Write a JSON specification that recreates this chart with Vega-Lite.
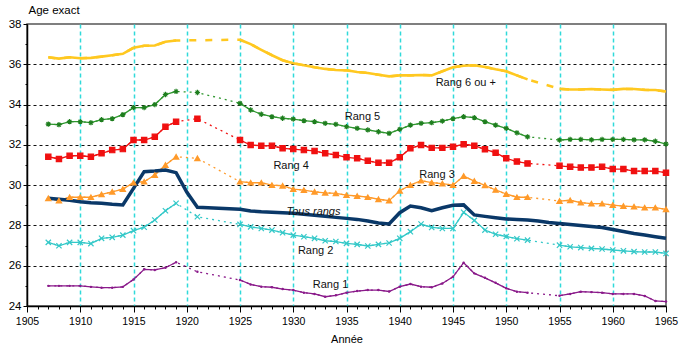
{
  "$schema": "https://vega.github.io/schema/vega-lite/v6.json",
  "width": 639,
  "height": 282,
  "autosize": "none",
  "padding": {"left": 27, "top": 24, "right": 20, "bottom": 46},
  "background": "white",
  "config": {"view": {"stroke": "#555", "strokeWidth": 1.5}, "font": "Liberation Sans"},
  "datasets": {
    "pts": [
      {"s":"Rang 6 ou +","y":1907,"v":36.35,"g":"a"},{"s":"Rang 6 ou +","y":1908,"v":36.28,"g":"a"},{"s":"Rang 6 ou +","y":1909,"v":36.35,"g":"a"},{"s":"Rang 6 ou +","y":1910,"v":36.3,"g":"a"},{"s":"Rang 6 ou +","y":1911,"v":36.32,"g":"a"},{"s":"Rang 6 ou +","y":1912,"v":36.38,"g":"a"},{"s":"Rang 6 ou +","y":1913,"v":36.45,"g":"a"},{"s":"Rang 6 ou +","y":1914,"v":36.52,"g":"a"},{"s":"Rang 6 ou +","y":1915,"v":36.82,"g":"a"},{"s":"Rang 6 ou +","y":1916,"v":36.92,"g":"a"},{"s":"Rang 6 ou +","y":1917,"v":36.93,"g":"a"},{"s":"Rang 6 ou +","y":1918,"v":37.12,"g":"a"},{"s":"Rang 6 ou +","y":1919,"v":37.18,"g":"a"},
      {"s":"Rang 6 ou +","y":1925,"v":37.22,"g":"b"},{"s":"Rang 6 ou +","y":1926,"v":37.0,"g":"b"},{"s":"Rang 6 ou +","y":1927,"v":36.72,"g":"b"},{"s":"Rang 6 ou +","y":1928,"v":36.45,"g":"b"},{"s":"Rang 6 ou +","y":1929,"v":36.2,"g":"b"},{"s":"Rang 6 ou +","y":1930,"v":36.05,"g":"b"},{"s":"Rang 6 ou +","y":1931,"v":35.95,"g":"b"},{"s":"Rang 6 ou +","y":1932,"v":35.85,"g":"b"},{"s":"Rang 6 ou +","y":1933,"v":35.77,"g":"b"},{"s":"Rang 6 ou +","y":1934,"v":35.72,"g":"b"},{"s":"Rang 6 ou +","y":1935,"v":35.7,"g":"b"},{"s":"Rang 6 ou +","y":1936,"v":35.62,"g":"b"},{"s":"Rang 6 ou +","y":1937,"v":35.57,"g":"b"},{"s":"Rang 6 ou +","y":1938,"v":35.48,"g":"b"},{"s":"Rang 6 ou +","y":1939,"v":35.4,"g":"b"},{"s":"Rang 6 ou +","y":1940,"v":35.45,"g":"b"},{"s":"Rang 6 ou +","y":1941,"v":35.45,"g":"b"},{"s":"Rang 6 ou +","y":1942,"v":35.47,"g":"b"},{"s":"Rang 6 ou +","y":1943,"v":35.45,"g":"b"},{"s":"Rang 6 ou +","y":1944,"v":35.65,"g":"b"},{"s":"Rang 6 ou +","y":1945,"v":35.85,"g":"b"},{"s":"Rang 6 ou +","y":1946,"v":35.93,"g":"b"},{"s":"Rang 6 ou +","y":1947,"v":35.95,"g":"b"},{"s":"Rang 6 ou +","y":1948,"v":35.87,"g":"b"},{"s":"Rang 6 ou +","y":1949,"v":35.75,"g":"b"},{"s":"Rang 6 ou +","y":1950,"v":35.65,"g":"b"},{"s":"Rang 6 ou +","y":1951,"v":35.45,"g":"b"},{"s":"Rang 6 ou +","y":1952,"v":35.25,"g":"b"},
      {"s":"Rang 6 ou +","y":1955,"v":34.78,"g":"c"},{"s":"Rang 6 ou +","y":1956,"v":34.75,"g":"c"},{"s":"Rang 6 ou +","y":1957,"v":34.75,"g":"c"},{"s":"Rang 6 ou +","y":1958,"v":34.77,"g":"c"},{"s":"Rang 6 ou +","y":1959,"v":34.75,"g":"c"},{"s":"Rang 6 ou +","y":1960,"v":34.73,"g":"c"},{"s":"Rang 6 ou +","y":1961,"v":34.78,"g":"c"},{"s":"Rang 6 ou +","y":1962,"v":34.77,"g":"c"},{"s":"Rang 6 ou +","y":1963,"v":34.73,"g":"c"},{"s":"Rang 6 ou +","y":1964,"v":34.72,"g":"c"},{"s":"Rang 6 ou +","y":1965,"v":34.65,"g":"c"},

      {"s":"Rang 5","y":1907,"v":33.03,"g":"a"},{"s":"Rang 5","y":1908,"v":33.0,"g":"a"},{"s":"Rang 5","y":1909,"v":33.15,"g":"a"},{"s":"Rang 5","y":1910,"v":33.15,"g":"a"},{"s":"Rang 5","y":1911,"v":33.1,"g":"a"},{"s":"Rang 5","y":1912,"v":33.25,"g":"a"},{"s":"Rang 5","y":1913,"v":33.3,"g":"a"},{"s":"Rang 5","y":1914,"v":33.5,"g":"a"},{"s":"Rang 5","y":1915,"v":33.85,"g":"a"},{"s":"Rang 5","y":1916,"v":33.85,"g":"a"},{"s":"Rang 5","y":1917,"v":34.0,"g":"a"},{"s":"Rang 5","y":1918,"v":34.5,"g":"a"},{"s":"Rang 5","y":1919,"v":34.65,"g":"a"},
      {"s":"Rang 5","y":1921,"v":34.6,"g":"gap"},
      {"s":"Rang 5","y":1925,"v":34.06,"g":"b"},{"s":"Rang 5","y":1926,"v":33.73,"g":"b"},{"s":"Rang 5","y":1927,"v":33.52,"g":"b"},{"s":"Rang 5","y":1928,"v":33.4,"g":"b"},{"s":"Rang 5","y":1929,"v":33.32,"g":"b"},{"s":"Rang 5","y":1930,"v":33.28,"g":"b"},{"s":"Rang 5","y":1931,"v":33.2,"g":"b"},{"s":"Rang 5","y":1932,"v":33.15,"g":"b"},{"s":"Rang 5","y":1933,"v":33.07,"g":"b"},{"s":"Rang 5","y":1934,"v":33.02,"g":"b"},{"s":"Rang 5","y":1935,"v":32.9,"g":"b"},{"s":"Rang 5","y":1936,"v":32.82,"g":"b"},{"s":"Rang 5","y":1937,"v":32.74,"g":"b"},{"s":"Rang 5","y":1938,"v":32.65,"g":"b"},{"s":"Rang 5","y":1939,"v":32.57,"g":"b"},{"s":"Rang 5","y":1940,"v":32.77,"g":"b"},{"s":"Rang 5","y":1941,"v":32.98,"g":"b"},{"s":"Rang 5","y":1942,"v":33.07,"g":"b"},{"s":"Rang 5","y":1943,"v":33.1,"g":"b"},{"s":"Rang 5","y":1944,"v":33.18,"g":"b"},{"s":"Rang 5","y":1945,"v":33.3,"g":"b"},{"s":"Rang 5","y":1946,"v":33.4,"g":"b"},{"s":"Rang 5","y":1947,"v":33.35,"g":"b"},{"s":"Rang 5","y":1948,"v":33.15,"g":"b"},{"s":"Rang 5","y":1949,"v":32.98,"g":"b"},{"s":"Rang 5","y":1950,"v":32.82,"g":"b"},{"s":"Rang 5","y":1951,"v":32.6,"g":"b"},{"s":"Rang 5","y":1952,"v":32.4,"g":"b"},
      {"s":"Rang 5","y":1955,"v":32.24,"g":"c"},{"s":"Rang 5","y":1956,"v":32.27,"g":"c"},{"s":"Rang 5","y":1957,"v":32.27,"g":"c"},{"s":"Rang 5","y":1958,"v":32.25,"g":"c"},{"s":"Rang 5","y":1959,"v":32.27,"g":"c"},{"s":"Rang 5","y":1960,"v":32.27,"g":"c"},{"s":"Rang 5","y":1961,"v":32.27,"g":"c"},{"s":"Rang 5","y":1962,"v":32.25,"g":"c"},{"s":"Rang 5","y":1963,"v":32.25,"g":"c"},{"s":"Rang 5","y":1964,"v":32.18,"g":"c"},{"s":"Rang 5","y":1965,"v":32.04,"g":"c"},

      {"s":"Rang 4","y":1907,"v":31.41,"g":"a"},{"s":"Rang 4","y":1908,"v":31.3,"g":"a"},{"s":"Rang 4","y":1909,"v":31.46,"g":"a"},{"s":"Rang 4","y":1910,"v":31.46,"g":"a"},{"s":"Rang 4","y":1911,"v":31.41,"g":"a"},{"s":"Rang 4","y":1912,"v":31.58,"g":"a"},{"s":"Rang 4","y":1913,"v":31.74,"g":"a"},{"s":"Rang 4","y":1914,"v":31.79,"g":"a"},{"s":"Rang 4","y":1915,"v":32.24,"g":"a"},{"s":"Rang 4","y":1916,"v":32.24,"g":"a"},{"s":"Rang 4","y":1917,"v":32.4,"g":"a"},{"s":"Rang 4","y":1918,"v":32.9,"g":"a"},{"s":"Rang 4","y":1919,"v":33.15,"g":"a"},
      {"s":"Rang 4","y":1921,"v":33.3,"g":"gap"},
      {"s":"Rang 4","y":1925,"v":32.24,"g":"b"},{"s":"Rang 4","y":1926,"v":31.99,"g":"b"},{"s":"Rang 4","y":1927,"v":31.96,"g":"b"},{"s":"Rang 4","y":1928,"v":31.95,"g":"b"},{"s":"Rang 4","y":1929,"v":31.83,"g":"b"},{"s":"Rang 4","y":1930,"v":31.79,"g":"b"},{"s":"Rang 4","y":1931,"v":31.74,"g":"b"},{"s":"Rang 4","y":1932,"v":31.7,"g":"b"},{"s":"Rang 4","y":1933,"v":31.58,"g":"b"},{"s":"Rang 4","y":1934,"v":31.5,"g":"b"},{"s":"Rang 4","y":1935,"v":31.38,"g":"b"},{"s":"Rang 4","y":1936,"v":31.33,"g":"b"},{"s":"Rang 4","y":1937,"v":31.21,"g":"b"},{"s":"Rang 4","y":1938,"v":31.11,"g":"b"},{"s":"Rang 4","y":1939,"v":31.11,"g":"b"},{"s":"Rang 4","y":1940,"v":31.38,"g":"b"},{"s":"Rang 4","y":1941,"v":31.83,"g":"b"},{"s":"Rang 4","y":1942,"v":31.99,"g":"b"},{"s":"Rang 4","y":1943,"v":31.85,"g":"b"},{"s":"Rang 4","y":1944,"v":31.85,"g":"b"},{"s":"Rang 4","y":1945,"v":31.91,"g":"b"},{"s":"Rang 4","y":1946,"v":32.03,"g":"b"},{"s":"Rang 4","y":1947,"v":31.96,"g":"b"},{"s":"Rang 4","y":1948,"v":31.78,"g":"b"},{"s":"Rang 4","y":1949,"v":31.61,"g":"b"},{"s":"Rang 4","y":1950,"v":31.33,"g":"b"},{"s":"Rang 4","y":1951,"v":31.17,"g":"b"},{"s":"Rang 4","y":1952,"v":31.08,"g":"b"},
      {"s":"Rang 4","y":1955,"v":30.96,"g":"c"},{"s":"Rang 4","y":1956,"v":30.91,"g":"c"},{"s":"Rang 4","y":1957,"v":30.87,"g":"c"},{"s":"Rang 4","y":1958,"v":30.87,"g":"c"},{"s":"Rang 4","y":1959,"v":30.91,"g":"c"},{"s":"Rang 4","y":1960,"v":30.8,"g":"c"},{"s":"Rang 4","y":1961,"v":30.8,"g":"c"},{"s":"Rang 4","y":1962,"v":30.7,"g":"c"},{"s":"Rang 4","y":1963,"v":30.7,"g":"c"},{"s":"Rang 4","y":1964,"v":30.7,"g":"c"},{"s":"Rang 4","y":1965,"v":30.62,"g":"c"},

      {"s":"Rang 3","y":1907,"v":29.35,"g":"a"},{"s":"Rang 3","y":1908,"v":29.23,"g":"a"},{"s":"Rang 3","y":1909,"v":29.4,"g":"a"},{"s":"Rang 3","y":1910,"v":29.4,"g":"a"},{"s":"Rang 3","y":1911,"v":29.4,"g":"a"},{"s":"Rang 3","y":1912,"v":29.54,"g":"a"},{"s":"Rang 3","y":1913,"v":29.67,"g":"a"},{"s":"Rang 3","y":1914,"v":29.8,"g":"a"},{"s":"Rang 3","y":1915,"v":30.12,"g":"a"},{"s":"Rang 3","y":1916,"v":30.17,"g":"a"},{"s":"Rang 3","y":1917,"v":30.5,"g":"a"},{"s":"Rang 3","y":1918,"v":31.0,"g":"a"},{"s":"Rang 3","y":1919,"v":31.41,"g":"a"},
      {"s":"Rang 3","y":1921,"v":31.33,"g":"gap"},
      {"s":"Rang 3","y":1925,"v":30.17,"g":"b"},{"s":"Rang 3","y":1926,"v":30.12,"g":"b"},{"s":"Rang 3","y":1927,"v":30.12,"g":"b"},{"s":"Rang 3","y":1928,"v":30.0,"g":"b"},{"s":"Rang 3","y":1929,"v":29.97,"g":"b"},{"s":"Rang 3","y":1930,"v":29.8,"g":"b"},{"s":"Rang 3","y":1931,"v":29.75,"g":"b"},{"s":"Rang 3","y":1932,"v":29.67,"g":"b"},{"s":"Rang 3","y":1933,"v":29.62,"g":"b"},{"s":"Rang 3","y":1934,"v":29.59,"g":"b"},{"s":"Rang 3","y":1935,"v":29.5,"g":"b"},{"s":"Rang 3","y":1936,"v":29.46,"g":"b"},{"s":"Rang 3","y":1937,"v":29.4,"g":"b"},{"s":"Rang 3","y":1938,"v":29.3,"g":"b"},{"s":"Rang 3","y":1939,"v":29.23,"g":"b"},{"s":"Rang 3","y":1940,"v":29.72,"g":"b"},{"s":"Rang 3","y":1941,"v":30.0,"g":"b"},{"s":"Rang 3","y":1942,"v":30.22,"g":"b"},{"s":"Rang 3","y":1943,"v":30.13,"g":"b"},{"s":"Rang 3","y":1944,"v":30.08,"g":"b"},{"s":"Rang 3","y":1945,"v":30.0,"g":"b"},{"s":"Rang 3","y":1946,"v":30.45,"g":"b"},{"s":"Rang 3","y":1947,"v":30.2,"g":"b"},{"s":"Rang 3","y":1948,"v":29.99,"g":"b"},{"s":"Rang 3","y":1949,"v":29.76,"g":"b"},{"s":"Rang 3","y":1950,"v":29.56,"g":"b"},{"s":"Rang 3","y":1951,"v":29.4,"g":"b"},{"s":"Rang 3","y":1952,"v":29.4,"g":"b"},
      {"s":"Rang 3","y":1955,"v":29.21,"g":"c"},{"s":"Rang 3","y":1956,"v":29.25,"g":"c"},{"s":"Rang 3","y":1957,"v":29.13,"g":"c"},{"s":"Rang 3","y":1958,"v":29.08,"g":"c"},{"s":"Rang 3","y":1959,"v":29.08,"g":"c"},{"s":"Rang 3","y":1960,"v":29.01,"g":"c"},{"s":"Rang 3","y":1961,"v":28.96,"g":"c"},{"s":"Rang 3","y":1962,"v":28.93,"g":"c"},{"s":"Rang 3","y":1963,"v":28.88,"g":"c"},{"s":"Rang 3","y":1964,"v":28.88,"g":"c"},{"s":"Rang 3","y":1965,"v":28.8,"g":"c"},

      {"s":"Tous rangs","y":1907,"v":29.35,"g":"a"},{"s":"Tous rangs","y":1908,"v":29.3,"g":"a"},{"s":"Tous rangs","y":1909,"v":29.25,"g":"a"},{"s":"Tous rangs","y":1910,"v":29.18,"g":"a"},{"s":"Tous rangs","y":1911,"v":29.13,"g":"a"},{"s":"Tous rangs","y":1912,"v":29.1,"g":"a"},{"s":"Tous rangs","y":1913,"v":29.05,"g":"a"},{"s":"Tous rangs","y":1914,"v":29.02,"g":"a"},{"s":"Tous rangs","y":1915,"v":29.84,"g":"a"},{"s":"Tous rangs","y":1916,"v":30.67,"g":"a"},{"s":"Tous rangs","y":1917,"v":30.7,"g":"a"},{"s":"Tous rangs","y":1918,"v":30.75,"g":"a"},{"s":"Tous rangs","y":1919,"v":30.62,"g":"a"},{"s":"Tous rangs","y":1920,"v":29.66,"g":"a"},{"s":"Tous rangs","y":1921,"v":28.9,"g":"a"},{"s":"Tous rangs","y":1922,"v":28.88,"g":"a"},{"s":"Tous rangs","y":1923,"v":28.85,"g":"a"},{"s":"Tous rangs","y":1924,"v":28.83,"g":"a"},{"s":"Tous rangs","y":1925,"v":28.8,"g":"a"},{"s":"Tous rangs","y":1926,"v":28.72,"g":"a"},{"s":"Tous rangs","y":1927,"v":28.68,"g":"a"},{"s":"Tous rangs","y":1928,"v":28.66,"g":"a"},{"s":"Tous rangs","y":1929,"v":28.63,"g":"a"},{"s":"Tous rangs","y":1930,"v":28.6,"g":"a"},{"s":"Tous rangs","y":1931,"v":28.55,"g":"a"},{"s":"Tous rangs","y":1932,"v":28.5,"g":"a"},{"s":"Tous rangs","y":1933,"v":28.45,"g":"a"},{"s":"Tous rangs","y":1934,"v":28.4,"g":"a"},{"s":"Tous rangs","y":1935,"v":28.35,"g":"a"},{"s":"Tous rangs","y":1936,"v":28.3,"g":"a"},{"s":"Tous rangs","y":1937,"v":28.22,"g":"a"},{"s":"Tous rangs","y":1938,"v":28.12,"g":"a"},{"s":"Tous rangs","y":1939,"v":28.07,"g":"a"},{"s":"Tous rangs","y":1940,"v":28.63,"g":"a"},{"s":"Tous rangs","y":1941,"v":28.96,"g":"a"},{"s":"Tous rangs","y":1942,"v":28.88,"g":"a"},{"s":"Tous rangs","y":1943,"v":28.73,"g":"a"},{"s":"Tous rangs","y":1944,"v":28.88,"g":"a"},{"s":"Tous rangs","y":1945,"v":29.0,"g":"a"},{"s":"Tous rangs","y":1946,"v":29.02,"g":"a"},{"s":"Tous rangs","y":1947,"v":28.52,"g":"a"},{"s":"Tous rangs","y":1948,"v":28.45,"g":"a"},{"s":"Tous rangs","y":1949,"v":28.38,"g":"a"},{"s":"Tous rangs","y":1950,"v":28.32,"g":"a"},{"s":"Tous rangs","y":1951,"v":28.3,"g":"a"},{"s":"Tous rangs","y":1952,"v":28.27,"g":"a"},{"s":"Tous rangs","y":1953,"v":28.22,"g":"a"},{"s":"Tous rangs","y":1954,"v":28.15,"g":"a"},{"s":"Tous rangs","y":1955,"v":28.1,"g":"a"},{"s":"Tous rangs","y":1956,"v":28.05,"g":"a"},{"s":"Tous rangs","y":1957,"v":28.0,"g":"a"},{"s":"Tous rangs","y":1958,"v":27.95,"g":"a"},{"s":"Tous rangs","y":1959,"v":27.9,"g":"a"},{"s":"Tous rangs","y":1960,"v":27.8,"g":"a"},{"s":"Tous rangs","y":1961,"v":27.7,"g":"a"},{"s":"Tous rangs","y":1962,"v":27.6,"g":"a"},{"s":"Tous rangs","y":1963,"v":27.52,"g":"a"},{"s":"Tous rangs","y":1964,"v":27.44,"g":"a"},{"s":"Tous rangs","y":1965,"v":27.36,"g":"a"},

      {"s":"Rang 2","y":1907,"v":27.16,"g":"a"},{"s":"Rang 2","y":1908,"v":26.99,"g":"a"},{"s":"Rang 2","y":1909,"v":27.16,"g":"a"},{"s":"Rang 2","y":1910,"v":27.16,"g":"a"},{"s":"Rang 2","y":1911,"v":27.1,"g":"a"},{"s":"Rang 2","y":1912,"v":27.36,"g":"a"},{"s":"Rang 2","y":1913,"v":27.41,"g":"a"},{"s":"Rang 2","y":1914,"v":27.52,"g":"a"},{"s":"Rang 2","y":1915,"v":27.74,"g":"a"},{"s":"Rang 2","y":1916,"v":27.91,"g":"a"},{"s":"Rang 2","y":1917,"v":28.27,"g":"a"},{"s":"Rang 2","y":1918,"v":28.73,"g":"a"},{"s":"Rang 2","y":1919,"v":29.1,"g":"a"},
      {"s":"Rang 2","y":1921,"v":28.43,"g":"gap"},
      {"s":"Rang 2","y":1925,"v":28.05,"g":"b"},{"s":"Rang 2","y":1926,"v":27.93,"g":"b"},{"s":"Rang 2","y":1927,"v":27.85,"g":"b"},{"s":"Rang 2","y":1928,"v":27.77,"g":"b"},{"s":"Rang 2","y":1929,"v":27.64,"g":"b"},{"s":"Rang 2","y":1930,"v":27.52,"g":"b"},{"s":"Rang 2","y":1931,"v":27.44,"g":"b"},{"s":"Rang 2","y":1932,"v":27.36,"g":"b"},{"s":"Rang 2","y":1933,"v":27.24,"g":"b"},{"s":"Rang 2","y":1934,"v":27.2,"g":"b"},{"s":"Rang 2","y":1935,"v":27.11,"g":"b"},{"s":"Rang 2","y":1936,"v":27.06,"g":"b"},{"s":"Rang 2","y":1937,"v":26.98,"g":"b"},{"s":"Rang 2","y":1938,"v":27.06,"g":"b"},{"s":"Rang 2","y":1939,"v":27.13,"g":"b"},{"s":"Rang 2","y":1940,"v":27.36,"g":"b"},{"s":"Rang 2","y":1941,"v":27.69,"g":"b"},{"s":"Rang 2","y":1942,"v":28.07,"g":"b"},{"s":"Rang 2","y":1943,"v":27.9,"g":"b"},{"s":"Rang 2","y":1944,"v":27.85,"g":"b"},{"s":"Rang 2","y":1945,"v":27.85,"g":"b"},{"s":"Rang 2","y":1946,"v":28.65,"g":"b"},{"s":"Rang 2","y":1947,"v":28.25,"g":"b"},{"s":"Rang 2","y":1948,"v":27.77,"g":"b"},{"s":"Rang 2","y":1949,"v":27.56,"g":"b"},{"s":"Rang 2","y":1950,"v":27.45,"g":"b"},{"s":"Rang 2","y":1951,"v":27.34,"g":"b"},{"s":"Rang 2","y":1952,"v":27.27,"g":"b"},
      {"s":"Rang 2","y":1955,"v":27.02,"g":"c"},{"s":"Rang 2","y":1956,"v":26.94,"g":"c"},{"s":"Rang 2","y":1957,"v":26.9,"g":"c"},{"s":"Rang 2","y":1958,"v":26.86,"g":"c"},{"s":"Rang 2","y":1959,"v":26.83,"g":"c"},{"s":"Rang 2","y":1960,"v":26.78,"g":"c"},{"s":"Rang 2","y":1961,"v":26.74,"g":"c"},{"s":"Rang 2","y":1962,"v":26.7,"g":"c"},{"s":"Rang 2","y":1963,"v":26.68,"g":"c"},{"s":"Rang 2","y":1964,"v":26.68,"g":"c"},{"s":"Rang 2","y":1965,"v":26.61,"g":"c"},

      {"s":"Rang 1","y":1907,"v":25.0,"g":"a"},{"s":"Rang 1","y":1908,"v":25.0,"g":"a"},{"s":"Rang 1","y":1909,"v":25.0,"g":"a"},{"s":"Rang 1","y":1910,"v":25.0,"g":"a"},{"s":"Rang 1","y":1911,"v":24.95,"g":"a"},{"s":"Rang 1","y":1912,"v":24.91,"g":"a"},{"s":"Rang 1","y":1913,"v":24.91,"g":"a"},{"s":"Rang 1","y":1914,"v":24.95,"g":"a"},{"s":"Rang 1","y":1915,"v":25.32,"g":"a"},{"s":"Rang 1","y":1916,"v":25.82,"g":"a"},{"s":"Rang 1","y":1917,"v":25.79,"g":"a"},{"s":"Rang 1","y":1918,"v":25.9,"g":"a"},{"s":"Rang 1","y":1919,"v":26.17,"g":"a"},
      {"s":"Rang 1","y":1921,"v":25.7,"g":"gap"},
      {"s":"Rang 1","y":1925,"v":25.29,"g":"b"},{"s":"Rang 1","y":1926,"v":25.07,"g":"b"},{"s":"Rang 1","y":1927,"v":24.96,"g":"b"},{"s":"Rang 1","y":1928,"v":24.93,"g":"b"},{"s":"Rang 1","y":1929,"v":24.84,"g":"b"},{"s":"Rang 1","y":1930,"v":24.79,"g":"b"},{"s":"Rang 1","y":1931,"v":24.66,"g":"b"},{"s":"Rang 1","y":1932,"v":24.6,"g":"b"},{"s":"Rang 1","y":1933,"v":24.46,"g":"b"},{"s":"Rang 1","y":1934,"v":24.53,"g":"b"},{"s":"Rang 1","y":1935,"v":24.66,"g":"b"},{"s":"Rang 1","y":1936,"v":24.74,"g":"b"},{"s":"Rang 1","y":1937,"v":24.79,"g":"b"},{"s":"Rang 1","y":1938,"v":24.79,"g":"b"},{"s":"Rang 1","y":1939,"v":24.72,"g":"b"},{"s":"Rang 1","y":1940,"v":24.96,"g":"b"},{"s":"Rang 1","y":1941,"v":25.09,"g":"b"},{"s":"Rang 1","y":1942,"v":24.96,"g":"b"},{"s":"Rang 1","y":1943,"v":24.93,"g":"b"},{"s":"Rang 1","y":1944,"v":25.12,"g":"b"},{"s":"Rang 1","y":1945,"v":25.45,"g":"b"},{"s":"Rang 1","y":1946,"v":26.15,"g":"b"},{"s":"Rang 1","y":1947,"v":25.62,"g":"b"},{"s":"Rang 1","y":1948,"v":25.4,"g":"b"},{"s":"Rang 1","y":1949,"v":25.15,"g":"b"},{"s":"Rang 1","y":1950,"v":24.88,"g":"b"},{"s":"Rang 1","y":1951,"v":24.71,"g":"b"},{"s":"Rang 1","y":1952,"v":24.66,"g":"b"},
      {"s":"Rang 1","y":1955,"v":24.51,"g":"c"},{"s":"Rang 1","y":1956,"v":24.6,"g":"c"},{"s":"Rang 1","y":1957,"v":24.71,"g":"c"},{"s":"Rang 1","y":1958,"v":24.69,"g":"c"},{"s":"Rang 1","y":1959,"v":24.66,"g":"c"},{"s":"Rang 1","y":1960,"v":24.6,"g":"c"},{"s":"Rang 1","y":1961,"v":24.6,"g":"c"},{"s":"Rang 1","y":1962,"v":24.6,"g":"c"},{"s":"Rang 1","y":1963,"v":24.5,"g":"c"},{"s":"Rang 1","y":1964,"v":24.25,"g":"c"},{"s":"Rang 1","y":1965,"v":24.22,"g":"c"}
    ],
    "lab": [
      {"t":"Rang 6 ou +","y":1946.2,"v":35.07,"it":0},
      {"t":"Rang 5","y":1936.5,"v":33.38,"it":0},
      {"t":"Rang 4","y":1929.8,"v":30.96,"it":0},
      {"t":"Rang 3","y":1943.5,"v":30.5,"it":0},
      {"t":"Tous rangs","y":1931.9,"v":28.68,"it":1},
      {"t":"Rang 2","y":1932.1,"v":26.74,"it":0},
      {"t":"Rang 1","y":1933.5,"v":25.04,"it":0}
    ]
  },
  "encoding": {
    "x": {
      "field": "y", "type": "quantitative",
      "scale": {"domain": [1905, 1965], "nice": false, "zero": false},
      "axis": {
        "title": "Année",
        "values": [1905,1906,1907,1908,1909,1910,1911,1912,1913,1914,1915,1916,1917,1918,1919,1920,1921,1922,1923,1924,1925,1926,1927,1928,1929,1930,1931,1932,1933,1934,1935,1936,1937,1938,1939,1940,1941,1942,1943,1944,1945,1946,1947,1948,1949,1950,1951,1952,1953,1954,1955,1956,1957,1958,1959,1960,1961,1962,1963,1964,1965],
        "format": "d",
        "labelExpr": "datum.value % 5 === 0 ? datum.label : ''",
        "labelFont": "Liberation Sans", "labelFontSize": 10.5, "labelColor": "#000",
        "labelOverlap": false, "labelFlush": false, "labelPadding": 4,
        "domainColor": "#000", "domainWidth": 1.5,
        "tickColor": "#000",
        "tickSize": {"condition": {"test": "datum.value % 5 === 0", "value": 6}, "value": 3},
        "grid": true, "gridColor": "#30DADA", "gridDash": [4, 3], "gridWidth": 1.5,
        "gridOpacity": {"condition": {"test": "datum.value % 5 === 0 && datum.value > 1905 && datum.value < 1965", "value": 1}, "value": 0},
        "titleFont": "Liberation Sans", "titleFontSize": 11, "titleFontWeight": "normal", "titleColor": "#000", "titlePadding": 7
      }
    },
    "y": {
      "field": "v", "type": "quantitative",
      "scale": {"domain": [24, 38], "nice": false, "zero": false},
      "axis": {
        "title": "Age exact",
        "titleAngle": 0, "titleAlign": "left", "titleBaseline": "middle", "titleX": 1, "titleY": -14,
        "titleFont": "Liberation Sans", "titleFontSize": 11.5, "titleFontWeight": "normal", "titleColor": "#000",
        "values": [24,25,26,27,28,29,30,31,32,33,34,35,36,37,38],
        "labelExpr": "datum.value % 2 === 0 ? datum.label : ''",
        "labelFont": "Liberation Sans", "labelFontSize": 11.5, "labelColor": "#000", "labelPadding": 2,
        "labelOverlap": false, "labelFlush": false,
        "domainColor": "#000", "domainWidth": 1.5,
        "tickColor": "#000",
        "tickSize": {"condition": {"test": "datum.value % 2 === 0", "value": 4}, "value": 2},
        "grid": true, "gridColor": "#111", "gridDash": [3, 3], "gridWidth": 1,
        "gridOpacity": {"condition": {"test": "datum.value % 2 === 0 && datum.value > 24 && datum.value < 38", "value": 1}, "value": 0}
      }
    }
  },
  "layer": [
    {
      "data": {"name": "pts"},
      "transform": [{"filter": "datum.s !== 'Tous rangs' && datum.s !== 'Rang 6 ou +'"}],
      "mark": {"type": "line", "strokeWidth": 1.3, "strokeDash": [2, 4]},
      "encoding": {
        "color": {"field": "s", "type": "nominal", "legend": null,
          "scale": {"domain": ["Rang 6 ou +","Rang 5","Rang 4","Rang 3","Tous rangs","Rang 2","Rang 1"],
                    "range": ["#FFC820","#2E962E","#F01010","#FF9A2A","#0A3868","#33C8C8","#8A1A8A"]}}
      }
    },
    {
      "data": {"name": "pts"},
      "transform": [{"filter": "datum.s === 'Rang 6 ou +'"}],
      "mark": {"type": "line", "strokeWidth": 2.5, "strokeDash": [7, 9], "color": "#FFC820"},
      "encoding": {}
    },
    {
      "data": {"name": "pts"},
      "transform": [{"filter": "datum.g !== 'gap' && datum.s !== 'Tous rangs' && datum.s !== 'Rang 6 ou +'"}],
      "mark": {"type": "line", "strokeWidth": 1.3},
      "encoding": {
        "color": {"field": "s", "type": "nominal", "legend": null},
        "detail": {"field": "g"}
      }
    },
    {
      "data": {"name": "pts"},
      "transform": [{"filter": "datum.s === 'Rang 6 ou +'"}],
      "mark": {"type": "line", "strokeWidth": 2.6, "color": "#FFC820"},
      "encoding": {"detail": {"field": "g"}}
    },
    {
      "data": {"name": "pts"},
      "transform": [{"filter": "datum.s === 'Tous rangs'"}],
      "mark": {"type": "line", "strokeWidth": 3.5, "color": "#0A3868"},
      "encoding": {}
    },
    {
      "data": {"name": "pts"},
      "transform": [{"filter": "datum.s === 'Rang 5' || datum.s === 'Rang 4' || datum.s === 'Rang 3' || datum.s === 'Rang 2'"}],
      "mark": {"type": "point", "filled": true, "size": 28, "strokeWidth": 1.2, "opacity": 1},
      "encoding": {
        "color": {"field": "s", "type": "nominal", "legend": null},
        "stroke": {"field": "s", "type": "nominal", "legend": null,
          "scale": {"domain": ["Rang 5","Rang 4","Rang 3","Rang 2"], "range": ["#1E7E1E","#F01010","#FF9A2A","#33C8C8"]}},
        "shape": {"field": "s", "type": "nominal", "legend": null,
          "scale": {"domain": ["Rang 5","Rang 4","Rang 3","Rang 2"],
                    "range": ["M-1,0L1,0M0,-1L0,1M-0.7,-0.7L0.7,0.7M-0.7,0.7L0.7,-0.7","square","triangle-up","M-1,-1L1,1M-1,1L1,-1"]}}
      }
    },
    {
      "data": {"name": "pts"},
      "transform": [{"filter": "datum.s === 'Rang 1'"}],
      "mark": {"type": "point", "filled": true, "size": 6, "color": "#8A1A8A", "opacity": 1},
      "encoding": {}
    },
    {
      "data": {"name": "lab"},
      "transform": [{"filter": "datum.it === 0"}],
      "mark": {"type": "text", "font": "Liberation Sans", "fontSize": 11, "color": "#111", "align": "center", "baseline": "middle"},
      "encoding": {"text": {"field": "t"}}
    },
    {
      "data": {"name": "lab"},
      "transform": [{"filter": "datum.it === 1"}],
      "mark": {"type": "text", "font": "Liberation Sans", "fontSize": 11, "fontStyle": "italic", "color": "#111", "align": "center", "baseline": "middle"},
      "encoding": {"text": {"field": "t"}}
    }
  ]
}
